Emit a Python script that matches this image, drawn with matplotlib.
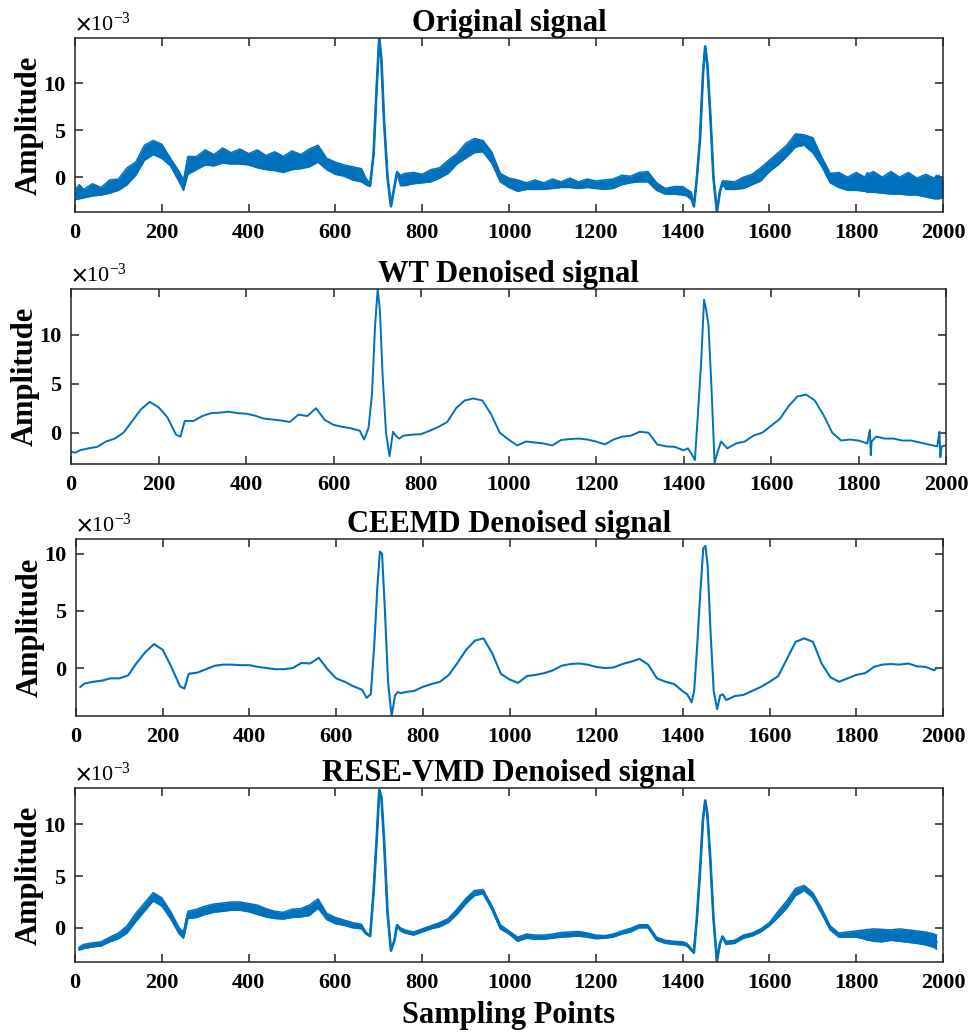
import numpy as np
import matplotlib
matplotlib.use("Agg")
import matplotlib.pyplot as plt

plt.rcParams['font.family'] = ['Liberation Serif', 'DejaVu Serif']
plt.rcParams['font.weight'] = 'bold'
plt.rcParams['mathtext.fontset'] = 'stix'

nan = np.nan

# sample positions (shared by all four traces), amplitudes in units of 1e-3
x_pts = [0, 10, 20, 40, 60, 80, 100, 120, 140, 160,
         180, 200, 220, 240, 250, 260, 280, 300, 320, 340,
         360, 380, 400, 420, 440, 460, 480, 500, 520, 540,
         560, 580, 600, 620, 640, 660, 670, 680, 688, 695,
         701, 706, 712, 720, 728, 736, 742, 750, 760, 780,
         800, 820, 840, 860, 880, 900, 920, 940, 960, 980,
         1000, 1020, 1040, 1060, 1080, 1100, 1120, 1140, 1160, 1180,
         1200, 1220, 1240, 1260, 1280, 1300, 1320, 1340, 1360, 1380,
         1400, 1410, 1420, 1426, 1433, 1440, 1447, 1452, 1457, 1464,
         1471, 1479, 1486, 1492, 1500, 1520, 1540, 1560, 1580, 1600,
         1620, 1640, 1660, 1680, 1700, 1720, 1740, 1760, 1780, 1800,
         1820, 1826, 1828, 1830, 1840, 1860, 1880, 1900, 1920, 1940,
         1960, 1980, 1985, 1987, 1990, 2000]

# original signal: upper / lower edge of the noisy band
orig_hi = [-1.3, -0.8, -1.3, -0.7, -1.1, -0.3, -0.2, 1.0, 1.6, 3.4,
           3.9, 3.5, 2.0, 0.6, -0.3, 2.2, 2.2, 2.9, 2.4, 3.1,
           2.6, 3.0, 2.5, 2.9, 2.3, 2.7, 2.2, 2.8, 2.4, 3.0,
           3.4, 2.0, 1.6, 1.3, 1.1, 0.9, -0.1, -0.7, 2.5, 9.5,
           14.8, 12.5, 6.0, 0.0, -3.1, -1.0, 0.6, 0.2, 0.4, 0.5,
           0.3, 0.8, 1.0, 1.8, 2.5, 3.6, 4.1, 3.9, 2.7, 0.4,
           -0.1, -0.3, -0.6, -0.3, -0.6, -0.2, -0.5, -0.1, -0.5, -0.2,
           -0.4, -0.3, -0.2, 0.2, 0.1, 0.5, 0.6, -0.6, -1.2, -1.0,
           -1.0, -1.3, -1.6, -3.1, 0.0, 4.0, 11.0, 13.9, 12.0, 6.5,
           0.0, -3.7, -1.5, -0.4, -0.4, -0.5, 0.0, 0.3, 1.0, 1.8,
           2.6, 3.4, 4.6, 4.5, 4.2, 2.2, 0.4, 0.5, 0.0, 0.5,
           0.0, 0.5, 0.2, 0.4, 0.6, 0.0, 0.6, 0.0, 0.5, -0.1,
           0.3, -0.1, 0.2, 0.0, 0.2, -0.3]
orig_lo = [-2.4, -2.3, -2.2, -2.0, -1.9, -1.7, -1.4, -0.8, 0.2, 1.8,
           2.4, 2.0, 1.2, -0.5, -1.4, 0.3, 0.8, 1.3, 1.2, 1.5,
           1.4, 1.4, 1.3, 1.0, 0.8, 0.7, 0.5, 0.8, 0.9, 1.1,
           1.6, 0.8, 0.3, 0.1, -0.3, -0.5, -0.8, -1.0, 2.5, 9.5,
           14.8, 12.5, 6.0, 0.0, -3.1, -1.0, 0.4, -0.9, -0.9, -0.7,
           -0.6, -0.5, -0.1, 0.4, 1.4, 2.0, 2.6, 2.7, 1.5, -0.5,
           -1.1, -1.5, -1.3, -1.3, -1.3, -1.2, -1.1, -1.1, -1.2, -1.1,
           -1.2, -1.3, -1.2, -0.8, -0.6, -0.5, -0.5, -1.4, -1.8, -1.8,
           -1.9, -2.0, -2.4, -3.1, 0.0, 4.0, 11.0, 13.9, 12.0, 6.5,
           0.0, -3.7, -1.5, -0.8, -1.3, -1.3, -1.2, -0.8, -0.4, 0.6,
           1.3, 2.2, 3.2, 3.4, 2.6, 1.2, -0.6, -1.1, -1.4, -1.4,
           -1.5, -1.6, -1.6, -1.6, -1.6, -1.7, -1.8, -1.8, -1.9, -1.9,
           -2.1, -2.3, -2.3, -2.3, -2.3, -2.2]

wt_y = [-1.95, -2.05, -1.8, -1.6, -1.45, -0.9, -0.6, 0.0, 1.2, 2.4,
        3.15, 2.6, 1.6, -0.2, -0.4, 1.2, 1.2, 1.7, 2.0, 2.05,
        2.15, 2.0, 1.95, 1.75, 1.45, 1.35, 1.25, 1.1, 1.85, 1.7,
        2.5, 1.3, 0.8, 0.6, 0.45, 0.2, -0.7, 0.5, 4.0, 11.0,
        14.7, 12.5, 6.0, 0.0, -2.4, 0.1, -0.3, -0.6, -0.3, -0.2,
        -0.15, 0.2, 0.6, 1.1, 2.5, 3.3, 3.5, 3.3, 1.9, 0.0,
        -0.7, -1.3, -0.9, -1.0, -1.1, -1.3, -0.75, -0.65, -0.6, -0.7,
        -0.9, -1.2, -0.7, -0.4, -0.3, 0.1, 0.0, -1.2, -1.4, -1.45,
        -1.8, -1.6, -2.3, -2.8, 2.0, 7.0, 13.6, 12.5, 11.0, 4.5,
        -3.1, -1.8, -0.9, -1.2, -1.6, -1.1, -0.9, -0.3, 0.0, 0.7,
        1.4, 2.7, 3.7, 3.9, 3.3, 1.8, 0.0, -0.8, -0.7, -0.8,
        -1.1, 0.3, -2.3, -0.9, -0.4, -0.6, -0.6, -0.8, -0.8, -1.0,
        -1.2, -1.4, 0.1, -2.5, -1.4, -1.3]

ceemd_y = [nan, -1.65, -1.35, -1.2, -1.1, -0.9, -0.9, -0.65, 0.45, 1.4,
           2.1, 1.6, 0.1, -1.6, -1.8, -0.5, -0.4, -0.1, 0.2, 0.3,
           0.3, 0.25, 0.25, 0.1, 0.0, -0.1, -0.1, 0.0, 0.45, 0.4,
           0.9, -0.1, -0.9, -1.2, -1.6, -1.9, -2.6, -2.3, 2.0, 7.0,
           10.2, 10.0, 5.5, -1.3, -4.2, -2.4, -2.1, -2.2, -2.1, -2.0,
           -1.65, -1.4, -1.2, -0.6, 0.45, 1.6, 2.4, 2.6, 1.3, -0.5,
           -1.0, -1.3, -0.7, -0.6, -0.45, -0.2, 0.2, 0.35, 0.4, 0.3,
           0.1, 0.0, 0.05, 0.35, 0.55, 0.8, 0.3, -0.9, -1.2, -1.4,
           -2.05, -2.3, -3.0, -2.0, 2.0, 6.5, 10.5, 10.7, 9.0, 3.0,
           -2.0, -3.6, -2.4, -2.3, -2.8, -2.45, -2.35, -2.0, -1.65, -1.2,
           -0.7, 0.8, 2.3, 2.6, 2.3, 0.4, -0.8, -1.2, -0.9, -0.6,
           -0.45, -0.3, -0.25, -0.2, 0.1, 0.3, 0.35, 0.3, 0.4, 0.15,
           0.1, -0.2, 0.0, nan, nan, nan]

vmd_hi = [nan, -1.85, -1.6, -1.45, -1.35, -0.9, -0.5, 0.2, 1.4, 2.4,
          3.4, 2.9, 1.6, 0.0, -0.4, 1.6, 1.8, 2.1, 2.3, 2.4,
          2.5, 2.5, 2.35, 2.2, 1.85, 1.6, 1.5, 1.8, 1.85, 2.2,
          2.8, 1.4, 1.0, 0.75, 0.5, 0.35, -0.4, -0.8, 3.5, 8.5,
          13.3, 12.6, 8.5, 1.5, -2.2, -1.2, 0.3, 0.0, -0.2, -0.4,
          -0.1, 0.2, 0.5, 0.9, 1.8, 2.8, 3.6, 3.7, 2.2, 0.3,
          -0.3, -0.9, -0.6, -0.7, -0.7, -0.6, -0.45, -0.4, -0.35, -0.5,
          -0.7, -0.75, -0.6, -0.3, -0.05, 0.3, 0.3, -0.9, -1.2, -1.3,
          -1.35, -1.5, -2.0, -2.4, 1.0, 5.4, 10.5, 12.3, 11.0, 6.5,
          1.0, -3.2, -1.5, -0.8, -1.3, -1.2, -0.7, -0.5, -0.1, 0.5,
          1.6, 2.6, 3.8, 4.1, 3.4, 1.9, 0.2, -0.5, -0.4, -0.3,
          -0.2, -0.15, -0.2, -0.15, -0.1, -0.15, -0.2, -0.1, -0.2, -0.3,
          -0.4, -0.6, -0.7, nan, nan, nan]
vmd_lo = [nan, -2.15, -2.0, -1.85, -1.75, -1.35, -1.05, -0.5, 0.6, 1.6,
          2.6, 2.1, 0.9, -0.6, -1.0, 0.9, 1.0, 1.3, 1.5, 1.6,
          1.7, 1.7, 1.55, 1.3, 1.05, 0.9, 0.85, 1.0, 1.05, 1.2,
          1.9, 0.8, 0.4, 0.25, 0.0, -0.1, -0.6, -0.8, 3.5, 8.5,
          13.3, 12.6, 8.5, 1.5, -2.2, -1.2, 0.2, -0.3, -0.5, -0.7,
          -0.4, -0.1, 0.1, 0.5, 1.3, 2.3, 3.1, 3.3, 1.8, -0.1,
          -0.6, -1.3, -1.0, -1.1, -1.1, -1.0, -0.9, -0.85, -0.8, -0.9,
          -1.05, -1.0, -0.9, -0.6, -0.4, 0.0, 0.0, -1.2, -1.5, -1.6,
          -1.65, -1.75, -2.2, -2.4, 1.0, 5.4, 10.5, 12.3, 11.0, 6.5,
          1.0, -3.2, -1.5, -0.9, -1.6, -1.5, -1.0, -0.8, -0.4, 0.2,
          1.0, 1.9, 3.1, 3.6, 2.9, 1.4, -0.2, -0.9, -0.9, -0.9,
          -1.1, -1.2, -1.2, -1.2, -1.3, -1.35, -1.2, -1.3, -1.4, -1.5,
          -1.65, -1.9, -2.05, nan, nan, nan]

titles = ['Original signal', 'WT Denoised signal',
          'CEEMD Denoised signal', 'RESE-VMD Denoised signal']
ylims = [(-3.7, 14.8), (-3.2, 14.7), (-4.2, 11.3), (-3.3, 13.5)]

blue = '#0072BD'
dark = '#262626'
x = np.array(x_pts, float)


def band(ax, hi, lo):
    hi = np.array(hi, float)
    lo = np.array(lo, float)
    ax.fill_between(x, lo, hi, color=blue, lw=0)
    ax.plot(x, hi, color=blue, lw=1.1)
    ax.plot(x, lo, color=blue, lw=1.1)
    ax.plot(x, (hi + lo) / 2, color=blue, lw=1.9)


fig = plt.figure(figsize=(9.77, 10.35), dpi=100)
rects = [[0.0768, 0.7952, 0.8884, 0.1681],
         [0.0727, 0.5517, 0.8956, 0.1691],
         [0.0778, 0.3082, 0.8874, 0.1710],
         [0.0768, 0.0705, 0.8884, 0.1681]]
axes = [fig.add_axes(r) for r in rects]

band(axes[0], orig_hi, orig_lo)
axes[1].plot(x, wt_y, color=blue, lw=1.4)
axes[2].plot(x, ceemd_y, color=blue, lw=1.5)
band(axes[3], vmd_hi, vmd_lo)

for ax, title, yl in zip(axes, titles, ylims):
    ax.set_xlim(0, 2000)
    ax.set_ylim(*yl)
    ax.set_xticks(np.arange(0, 2001, 200))
    ax.set_yticks([0, 5, 10])
    ax.tick_params(direction='in', top=True, right=True, length=6,
                   width=1.1, color=dark, labelsize=16, labelcolor='black')
    ax.tick_params(axis='x', pad=8)
    ax.tick_params(axis='y', pad=7)
    for sp in ax.spines.values():
        sp.set_linewidth(1.1)
        sp.set_color(dark)
    ax.set_title(title, fontsize=22, fontweight='bold', pad=5)
    ax.set_ylabel('Amplitude', fontsize=22, fontweight='bold')
    ax.yaxis.set_label_coords(-0.036, 0.5)
    ax.text(0.0, 1.015, r'$\times\mathregular{10^{-3}}$', transform=ax.transAxes,
            fontsize=16, fontweight='normal', ha='left', va='bottom')

axes[3].set_xlabel('Sampling Points', fontsize=22, fontweight='bold', labelpad=6)

fig.savefig('out.png', dpi=100)
